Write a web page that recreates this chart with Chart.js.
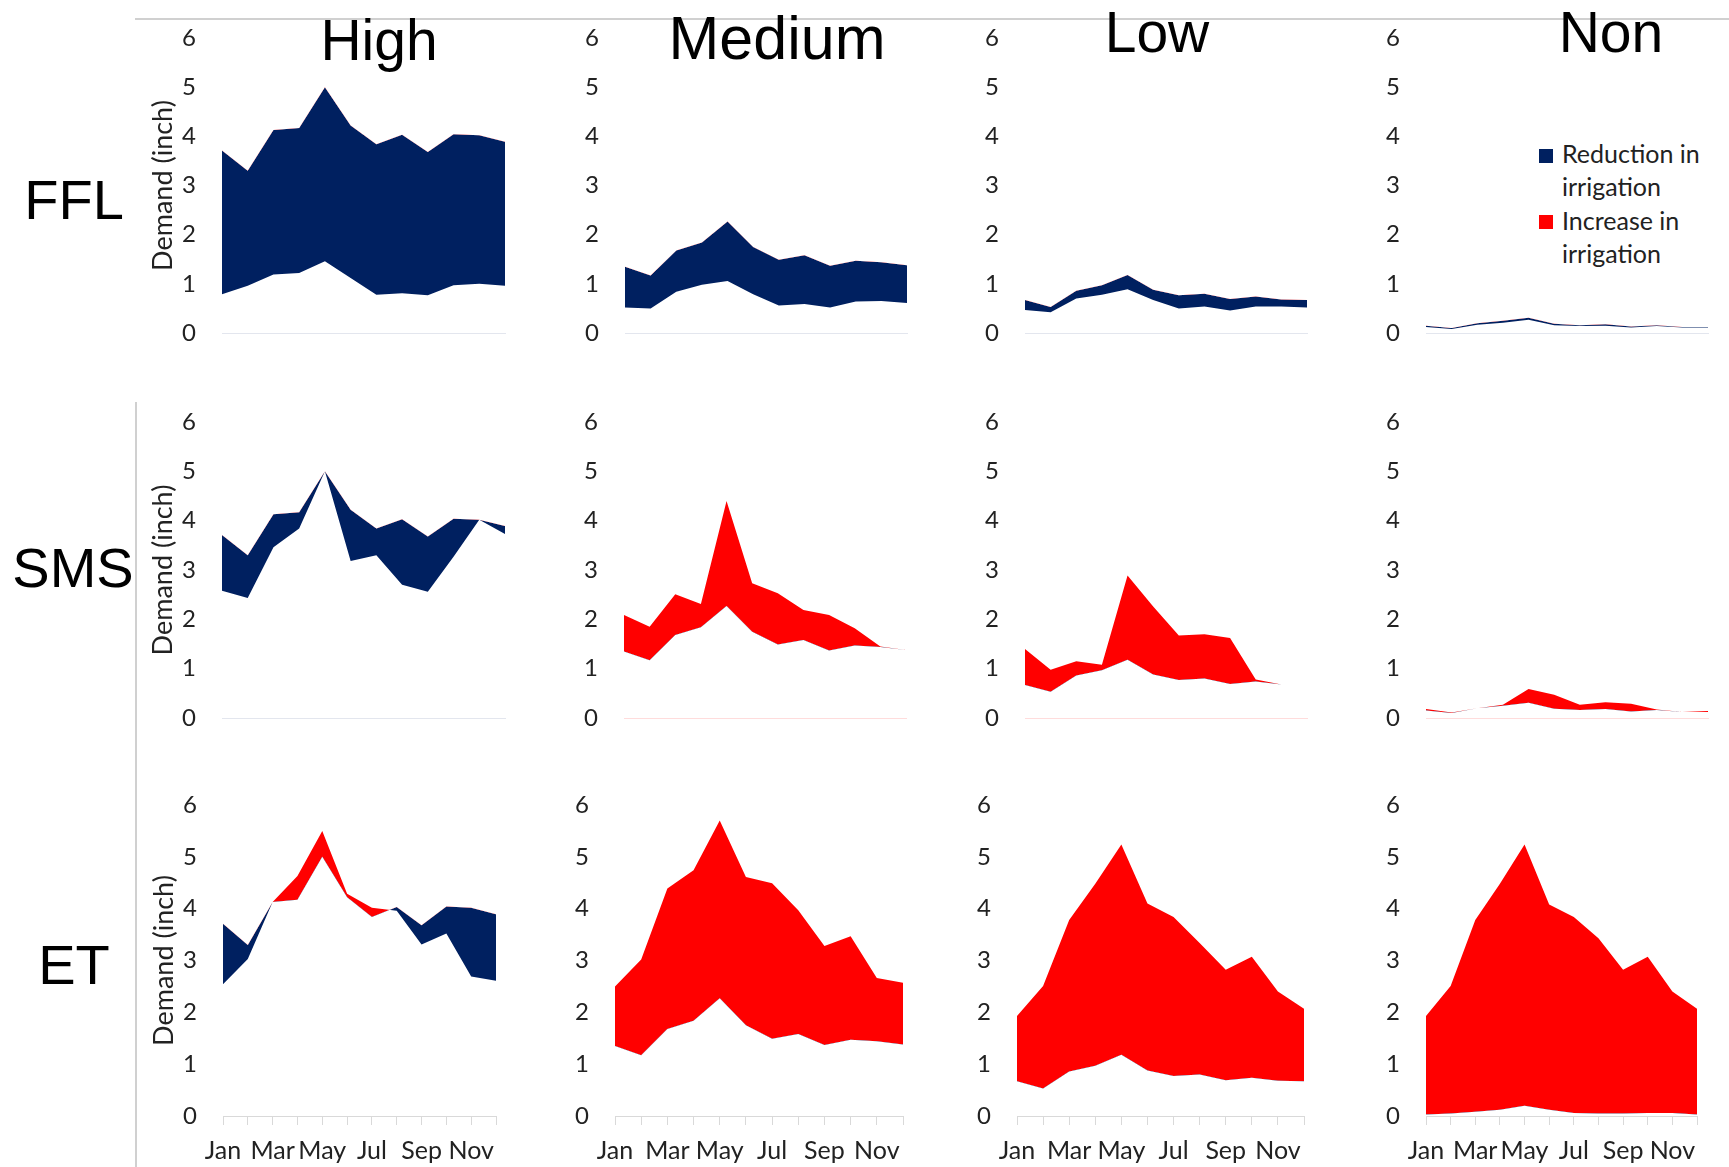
<!DOCTYPE html>
<html>
<head>
<meta charset="utf-8">
<script src="https://cdn.jsdelivr.net/npm/chart.js@4.4.1/dist/chart.umd.min.js"></script>
<style>
body{margin:0;background:#fff;width:1729px;height:1167px;position:relative;overflow:hidden;font-family:'Liberation Sans',Arial,sans-serif}
canvas{position:absolute}
.t{position:absolute;color:#000;white-space:nowrap;line-height:1;text-align:center;width:300px}
.rule{position:absolute;background:#d0d0d0}
.leg{position:absolute;left:1562px;top:137px;font-family:Lato,sans-serif;font-size:25px;line-height:33.3px;color:#222}
.sq{position:absolute;width:14px;height:14px}
</style>
</head>
<body>
<div class="rule" style="left:135px;top:18px;width:1594px;height:2px"></div>
<div class="rule" style="left:135px;top:402px;width:2px;height:765px"></div>

<div class="t" style="left:229px;top:12px;font-size:57px">High</div>
<div class="t" style="left:627px;top:8px;font-size:61px">Medium</div>
<div class="t" style="left:1007px;top:4px;font-size:57px">Low</div>
<div class="t" style="left:1461px;top:4px;font-size:57px">Non</div>

<div class="t" style="left:-76px;top:172px;font-size:56px">FFL</div>
<div class="t" style="left:-77px;top:540px;font-size:56px">SMS</div>
<div class="t" style="left:-76px;top:937px;font-size:56px">ET</div>

<div class="sq" style="left:1539px;top:149px;background:#002060"></div>
<div class="sq" style="left:1539px;top:215px;background:#ff0000"></div>
<div class="leg">Reduction in<br>irrigation<br>Increase in<br>irrigation</div>

<script>
const months = ['Jan','Feb','Mar','Apr','May','Jun','Jul','Aug','Sep','Oct','Nov','Dec'];

// current irrigation per column (inch)
const baseHigh = [3.71, 3.30, 4.13, 4.17, 5.00, 4.22, 3.84, 4.03, 3.68, 4.04, 4.02, 3.89];
const baseMed  = [1.35, 1.17, 1.68, 1.84, 2.27, 1.75, 1.49, 1.58, 1.37, 1.47, 1.44, 1.38];
const baseLow  = [0.67, 0.53, 0.86, 0.97, 1.18, 0.88, 0.77, 0.80, 0.69, 0.74, 0.68, 0.67];
const baseNon  = [0.15, 0.10, 0.20, 0.25, 0.31, 0.19, 0.16, 0.18, 0.13, 0.16, 0.12, 0.12];
const baseNonET = [0.03, 0.05, 0.08, 0.12, 0.20, 0.12, 0.06, 0.05, 0.05, 0.06, 0.06, 0.03];

// scheduling method demand
const fflHigh = [0.79, 0.96, 1.19, 1.22, 1.46, 1.12, 0.78, 0.81, 0.77, 0.97, 1.00, 0.96];
const fflMed  = [0.52, 0.50, 0.84, 0.98, 1.06, 0.79, 0.56, 0.59, 0.52, 0.64, 0.65, 0.61];
const fflLow  = [0.47, 0.42, 0.70, 0.78, 0.89, 0.67, 0.50, 0.54, 0.46, 0.54, 0.54, 0.52];
const fflNon  = [0.12, 0.08, 0.17, 0.21, 0.27, 0.16, 0.14, 0.15, 0.11, 0.14, 0.11, 0.11];

const smsHigh = [2.58, 2.43, 3.46, 3.84, 5.00, 3.18, 3.30, 2.70, 2.56, 3.27, 4.02, 3.73];
const smsMed  = [2.09, 1.85, 2.51, 2.31, 4.40, 2.73, 2.53, 2.19, 2.09, 1.82, 1.45, 1.38];
const smsLow  = [1.40, 0.98, 1.15, 1.08, 2.89, 2.26, 1.67, 1.70, 1.62, 0.78, 0.68, 0.67];
const smsNon  = [0.18, 0.11, 0.20, 0.27, 0.59, 0.47, 0.27, 0.32, 0.29, 0.17, 0.12, 0.14];

const etHigh = [2.54, 3.03, 4.13, 4.63, 5.50, 4.29, 4.02, 3.96, 3.31, 3.52, 2.69, 2.61];
const etMed  = [2.50, 3.02, 4.39, 4.74, 5.70, 4.61, 4.49, 3.97, 3.28, 3.47, 2.66, 2.57];
const etLow  = [1.93, 2.51, 3.78, 4.48, 5.24, 4.10, 3.84, 3.34, 2.82, 3.07, 2.40, 2.07];
const etNon  = [1.93, 2.51, 3.78, 4.48, 5.24, 4.08, 3.84, 3.43, 2.82, 3.07, 2.40, 2.07];

const BLUE = '#002060';
const RED = '#ff0000';

const panels = [
  [baseHigh, fflHigh], [baseMed, fflMed], [baseLow, fflLow], [baseNon, fflNon],
  [baseHigh, smsHigh], [baseMed, smsMed], [baseLow, smsLow], [baseNon, smsNon],
  [baseHigh, etHigh],  [baseMed, etMed],  [baseLow, etLow],  [baseNonET, etNon]
];

// layout of plot areas (pixels)
const rowTop = [38, 422, 805];
const rowBottom = [333, 718, 1116];
const plotX = [
  [[222,505],[625,907],[1025,1307],[1426,1708]],
  [[222,505],[624,906],[1025,1307],[1426,1708]],
  [[223,501],[615,908],[1017,1309],[1426,1702]]
];
const axisColors = [
  ['#e3e6ee','#e3e6ee','#e3e6ee','#e3e6ee'],
  ['#e3e6ee','#ffdcdc','#ffdcdc','#ffdcdc'],
  ['#d9d9d9','#d9d9d9','#d9d9d9','#d9d9d9']
];

Chart.defaults.font.family = 'Lato';

panels.forEach((p, k) => {
  const row = Math.floor(k / 4), col = k % 4;
  const yw = col === 0 ? 72 : 45;
  const padTop = 42;
  const bottomH = row === 2 ? 50 : 42;
  const [x0, x1] = plotX[row][col];
  const cv = document.createElement('canvas');
  const w = x1 - x0 + yw + 6;
  const h = rowBottom[row] - rowTop[row] + padTop + bottomH;
  cv.width = w; cv.height = h;
  cv.style.left = (x0 - yw) + 'px';
  cv.style.top = (rowTop[row] - padTop) + 'px';
  cv.style.width = w + 'px'; cv.style.height = h + 'px';
  document.body.appendChild(cv);

  new Chart(cv, {
    type: 'line',
    data: {
      labels: months,
      datasets: [
        { data: p[0], borderColor: 'rgba(0,0,0,0)', borderWidth: 0, pointRadius: 0, fill: false },
        { data: p[1], borderColor: 'rgba(0,0,0,0)', borderWidth: 0, pointRadius: 0,
          fill: { target: 0, above: RED, below: BLUE } }
      ]
    },
    options: {
      responsive: false,
      animation: false,
      devicePixelRatio: 1,
      layout: { padding: { top: padTop, right: 6, bottom: row === 2 ? 0 : 42, left: 0 } },
      plugins: { legend: { display: false }, tooltip: { enabled: false } },
      elements: { line: { tension: 0 } },
      scales: {
        x: {
          ticks: { display: row === 2, autoSkip: false, maxRotation: 0, minRotation: 0,
                   font: { size: 25 }, color: '#222', padding: 11,
                   callback: (v, i) => i % 2 === 0 ? months[i] : '' },
          grid: { display: row === 2, drawOnChartArea: false, drawTicks: row === 2, tickLength: 9, color: '#d9d9d9' },
          border: { display: true, color: axisColors[row][col] },
          afterFit: s => { s.height = row === 2 ? 50 : 0; }
        },
        y: {
          min: 0, max: 6,
          ticks: { stepSize: 1, font: { size: 24 }, color: '#222', padding: 26 },
          grid: { display: false, drawTicks: false },
          border: { display: false },
          title: { display: col === 0, text: 'Demand (inch)', color: '#222',
                   font: { size: 27, lineHeight: 1 }, padding: { top: 0, bottom: 0 } },
          afterFit: s => { s.width = yw; }
        }
      }
    }
  });
});
</script>
</body>
</html>
